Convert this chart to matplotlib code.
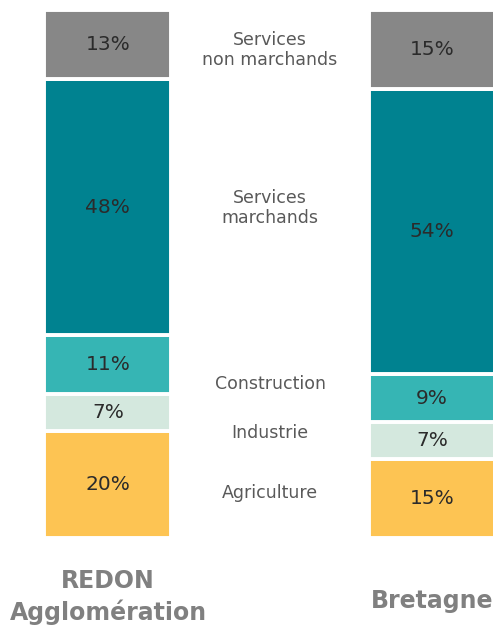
import matplotlib
matplotlib.use("Agg")
import matplotlib.pyplot as plt
import numpy as np

# Data: share of employment by sector (%), stacked bottom to top
territories = ["REDON\nAgglomération", "Bretagne"]
sectors = ["Agriculture", "Industrie", "Construction", "Services\nmarchands", "Services\nnon marchands"]
redon = [20, 7, 11, 48, 13]
bretagne = [15, 7, 9, 54, 15]
colors = ["#FDC453", "#D4E8DE", "#36B5B4", "#008290", "#878787"]

W, H = 493, 630
fig = plt.figure(figsize=(W / 100, H / 100), dpi=100)
ax = fig.add_axes([0, 92 / H, 1, 528 / H])

values = np.array([redon, bretagne], dtype=float)
shares = values / values.sum(axis=1, keepdims=True) * 100
x = np.array([0.0, 1.0])
width = 0.392

bottom = np.zeros(len(x))
for i, sector in enumerate(sectors):
    h = shares[:, i]
    ax.bar(x, h, width=width, bottom=bottom, color=colors[i],
           edgecolor="white", linewidth=2.8)
    for xi, b, hh, v in zip(x, bottom, h, values[:, i]):
        ax.text(xi, b + hh / 2, f"{int(v)}%", ha="center", va="center",
                fontsize=14.5, color="#2b2b2b", family="DejaVu Sans")
    bottom += h

ax.set_xlim(-0.333, 1.188)
ax.set_ylim(0, 100)
ax.axis("off")

# Sector names between the two bars
label_y = {"Services\nnon marchands": 50, "Services\nmarchands": 208,
           "Construction": 384, "Industrie": 433, "Agriculture": 493}
for sector in sectors:
    fig.text(270 / W, 1 - label_y[sector] / H, sector, ha="center", va="center",
             fontsize=12.5, color="#595959", linespacing=1.2)

# Territory names under the bars
fig.text(108 / W, 1 - 597 / H, territories[0], ha="center", va="center",
         fontsize=17, fontweight="bold", color="#808080", linespacing=1.3)
fig.text(432 / W, 1 - 601 / H, territories[1], ha="center", va="center",
         fontsize=17, fontweight="bold", color="#808080")

fig.savefig("out.png", dpi=100, facecolor="white")
